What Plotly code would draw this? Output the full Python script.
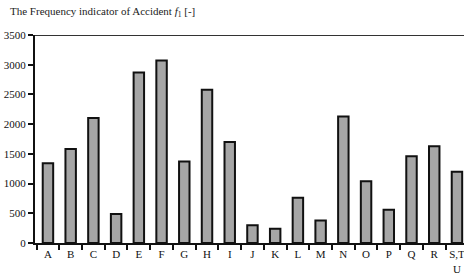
import plotly.graph_objects as go

categories = ["A", "B", "C", "D", "E", "F", "G", "H", "I", "J", "K", "L", "M", "N", "O", "P", "Q", "R", "S,T<br>U"]
values = [1340, 1580, 2105, 490, 2870, 3070, 1370, 2580, 1700, 300, 240, 760, 380, 2130, 1040, 560, 1460, 1630, 1200]
y_ticks = [0, 500, 1000, 1500, 2000, 2500, 3000, 3500]

fig = go.Figure()
fig.add_trace(go.Bar(
    x=list(range(len(categories))), y=values,
    width=0.46,
    marker=dict(color="#a6a6a6", line=dict(color="#111111", width=2)),
))

font = "Liberation Serif, Times New Roman, serif"
fig.update_layout(
    width=464, height=277,
    margin=dict(l=35, r=0, t=35, b=34),
    paper_bgcolor="white", plot_bgcolor="white",
    showlegend=False,
    font=dict(family=font, size=11, color="#111111"),
    annotations=[dict(
        text="The Frequency indicator of Accident <i>f</i><sub>1</sub> [-]",
        xref="paper", yref="paper", x=-0.063, y=1.11, xanchor="left", yanchor="middle",
        showarrow=False, font=dict(family=font, size=11, color="#222222"),
    )],
)
fig.update_xaxes(
    tickmode="array", tickvals=list(range(len(categories))), ticktext=categories,
    range=[-0.57, 18.31], automargin=False,
    showline=True, linecolor="#111111", linewidth=2,
    ticks="", showgrid=False, zeroline=False,
    ticklabeloverflow="allow",
    tickfont=dict(family=font, size=11, color="#111111"),
)
# boundary ticks via minor ticks
fig.update_xaxes(minor=dict(tickmode="array", tickvals=[i - 0.5 for i in range(len(categories) + 1)],
                            ticks="outside", ticklen=5, tickwidth=1.5, tickcolor="#111111"))
fig.update_yaxes(
    range=[0, 3500], tickmode="array", tickvals=y_ticks, automargin=False,
    showline=True, linecolor="#111111", linewidth=2,
    ticks="outside", ticklen=5, tickwidth=1.5, tickcolor="#111111",
    showgrid=False, zeroline=False,
    tickfont=dict(family=font, size=11, color="#111111"),
)
fig.add_shape(type="line", xref="paper", yref="y", x0=0, x1=1, y0=3500, y1=3500,
              line=dict(color="#333333", width=2))

fig.write_html("out.html", config={"displayModeBar": False},
               post_script="document.body.style.margin='0';document.body.style.overflow='hidden';")
